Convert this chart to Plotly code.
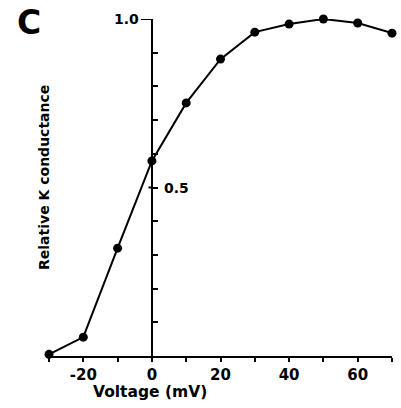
import plotly.graph_objects as go

voltage = [-30, -20, -10, 0, 10, 20, 30, 40, 50, 60, 70]
conductance = [0.005, 0.056, 0.32, 0.579, 0.751, 0.881, 0.961, 0.985, 1.0, 0.988, 0.958]
x_tick_vals = [-30, -20, -10, 0, 10, 20, 30, 40, 50, 60, 70]
x_tick_text = ["", "-20", "", "0", "", "20", "", "40", "", "60", ""]
y_tick_vals = [0.1, 0.2, 0.3, 0.4, 0.5, 0.6, 0.7, 0.8, 0.9, 1.0]

FONT = "DejaVu Sans"

fig = go.Figure()
fig.add_trace(go.Scatter(
    x=voltage, y=conductance, mode="lines+markers",
    line=dict(color="black", width=2),
    marker=dict(color="black", size=9),
    cliponaxis=False, showlegend=False, hoverinfo="skip",
))

x_range = [-30, 70]
yaxis_pos = (0 - x_range[0]) / (x_range[1] - x_range[0])

W, H = 401, 408
L, R, T, B = 49, 9, 19, 52
fig.update_layout(
    width=W, height=H,
    margin=dict(l=L, r=R, t=T, b=B, autoexpand=False),
    paper_bgcolor="white", plot_bgcolor="white",
    font=dict(family=FONT, color="black", size=12, weight="bold"),
    xaxis=dict(
        range=x_range, showgrid=False, zeroline=False, automargin=False,
        showline=True, linecolor="black", linewidth=2,
        ticks="outside", ticklen=4, tickwidth=2, tickcolor="black",
        tickvals=x_tick_vals, ticktext=x_tick_text,
        tickfont=dict(family=FONT, size=15, weight="bold"),
    ),
    yaxis=dict(
        range=[0, 1.0], showgrid=False, zeroline=False, automargin=False,
        anchor="free", position=yaxis_pos,
        showline=True, linecolor="black", linewidth=2,
        ticks="inside", ticklen=5, tickwidth=2, tickcolor="black",
        tickvals=y_tick_vals, showticklabels=False,
    ),
)

# left-side parts of the 1.0 and 0.5 ticks
fig.add_shape(type="line", xref="x", yref="y", x0=-3.2, x1=0, y0=1.0, y1=1.0,
              line=dict(color="black", width=2))
fig.add_shape(type="line", xref="x", yref="y", x0=-1.0, x1=0, y0=0.5, y1=0.5,
              line=dict(color="black", width=2))

fig.add_annotation(x=0, y=1.0, xref="x", yref="y", text="1.0", showarrow=False,
                   xanchor="right", yanchor="middle", xshift=-11,
                   font=dict(family=FONT, size=14, weight="bold"))
fig.add_annotation(x=0, y=0.5, xref="x", yref="y", text="0.5", showarrow=False,
                   xanchor="left", yanchor="middle", xshift=10,
                   font=dict(family=FONT, size=14, weight="bold"))

pw, ph = W - L - R, H - T - B
def px2paper(px, py):
    return (px - L) / pw, 1 - (py - T) / ph

ax, ay = px2paper(44, 178)
fig.add_annotation(x=ax, y=ay, xref="paper", yref="paper", text="Relative K conductance",
                   xanchor="center", yanchor="middle",
                   showarrow=False, textangle=-90, font=dict(family=FONT, size=14, weight="bold"))
ax, ay = px2paper(150, 392)
fig.add_annotation(x=ax, y=ay, xref="paper", yref="paper", text="Voltage (mV)",
                   xanchor="center", yanchor="middle",
                   showarrow=False, font=dict(family=FONT, size=15.5, weight="bold"))
ax, ay = px2paper(29, 23)
fig.add_annotation(x=ax, y=ay, xref="paper", yref="paper", text="C", showarrow=False,
                   xanchor="center", yanchor="middle",
                   font=dict(family=FONT, size=33, weight="bold"))

fig.write_html("out.html", config={"displayModeBar": False},
               post_script="document.body.style.margin='0';")
